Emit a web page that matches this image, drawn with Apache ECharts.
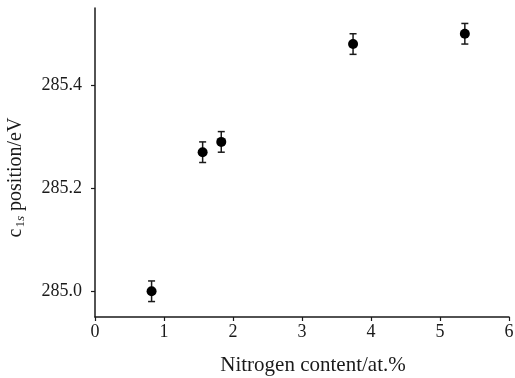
<!DOCTYPE html>
<html>
<head>
<meta charset="utf-8">
<script src="https://cdn.jsdelivr.net/npm/echarts@6/dist/echarts.min.js"></script>
<style>
  html, body { margin: 0; padding: 0; background: #fff; }
  #chart { width: 515px; height: 378px; }
</style>
</head>
<body>
<div id="chart"></div>
<script>
// Nitrogen content (at.%) against C1s binding-energy position (eV)
var nitrogenContent = [0.82, 1.56, 1.83, 3.74, 5.36];
var c1sPosition = [285.00, 285.27, 285.29, 285.48, 285.50];
var c1sError = [0.02, 0.02, 0.02, 0.02, 0.02];
var xTicks = [0, 1, 2, 3, 4, 5, 6];
var yTicks = [285.0, 285.2, 285.4];

var FONT = '"Liberation Serif", "DejaVu Serif", serif';
var INK = '#1a1a1a';

var points = nitrogenContent.map(function (x, i) { return [x, c1sPosition[i]]; });
var bars = nitrogenContent.map(function (x, i) {
  return [x, c1sPosition[i] - c1sError[i], c1sPosition[i] + c1sError[i]];
});

var chart = echarts.init(document.getElementById('chart'), null, { renderer: 'canvas' });

chart.setOption({
  animation: false,
  backgroundColor: '#fff',
  grid: { left: 95, right: 6, top: 8, bottom: 61, containLabel: false, outerBoundsMode: 'none' },
  xAxis: {
    type: 'value',
    min: xTicks[0],
    max: xTicks[xTicks.length - 1],
    interval: 1,
    splitLine: { show: false },
    axisLine: { show: true, onZero: false, lineStyle: { color: INK, width: 1.5 } },
    axisTick: { show: true, inside: false, length: 4, lineStyle: { color: INK, width: 1.2 } },
    axisLabel: { color: INK, fontFamily: FONT, fontSize: 18, margin: 6 },
    name: 'Nitrogen content/at.%',
    nameLocation: 'middle',
    nameGap: 38,
    nameTextStyle: { color: INK, fontFamily: FONT, fontSize: 21, padding: [0, 0, 0, 22] }
  },
  yAxis: {
    type: 'value',
    min: 284.95,
    max: 285.55,
    splitLine: { show: false },
    axisLine: { show: true, onZero: false, lineStyle: { color: INK, width: 1.5 } },
    axisTick: { show: true, inside: false, length: 4, customValues: yTicks, lineStyle: { color: INK, width: 1.2 } },
    axisLabel: {
      color: INK, fontFamily: FONT, fontSize: 18, margin: 13,
      customValues: yTicks,
      formatter: function (v) { return v.toFixed(1); }
    },
    name: '{m|c}{sub|1}{subi|s}{m| position/eV}',
    nameLocation: 'middle',
    nameRotate: 90,
    nameGap: 68,
    nameTextStyle: {
      color: INK, fontFamily: FONT, fontSize: 20,
      padding: [0, 30, 0, 0],
      rich: {
        m: { fontFamily: FONT, fontSize: 20, color: INK },
        sub: { fontFamily: FONT, fontSize: 13, color: INK, verticalAlign: 'bottom', padding: [9, 0, 0, 1] },
        subi: { fontFamily: FONT, fontSize: 13, fontStyle: 'italic', color: INK, verticalAlign: 'bottom', padding: [9, 0, 0, 0] }
      }
    }
  },
  series: [
    {
      type: 'custom',
      name: 'error',
      data: bars,
      encode: { x: 0, y: [1, 2] },
      z: 2,
      renderItem: function (params, api) {
        var x = api.value(0);
        var lo = api.coord([x, api.value(1)]);
        var hi = api.coord([x, api.value(2)]);
        var cap = 3.5;
        var style = { stroke: INK, lineWidth: 1.5 };
        return {
          type: 'group',
          children: [
            { type: 'line', shape: { x1: lo[0], y1: lo[1], x2: hi[0], y2: hi[1] }, style: style },
            { type: 'line', shape: { x1: lo[0] - cap, y1: lo[1], x2: lo[0] + cap, y2: lo[1] }, style: style },
            { type: 'line', shape: { x1: hi[0] - cap, y1: hi[1], x2: hi[0] + cap, y2: hi[1] }, style: style }
          ]
        };
      }
    },
    {
      type: 'scatter',
      name: 'C1s',
      data: points,
      symbol: 'circle',
      symbolSize: 10,
      z: 3,
      itemStyle: { color: '#000', opacity: 1 }
    }
  ]
});
</script>
</body>
</html>
